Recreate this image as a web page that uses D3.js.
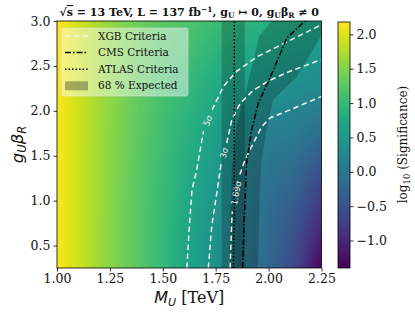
<!DOCTYPE html>
<html>
<head>
<meta charset="utf-8">
<script src="https://cdn.jsdelivr.net/npm/d3@7"></script>
<style>
  body { margin: 0; background: #fff; }
  text { font-family: "DejaVu Serif", serif; fill: #111; }
  .math { font-family: "DejaVu Sans", sans-serif; font-style: italic; }
</style>
</head>
<body>
<svg id="chart"></svg>
<script>
// ---- data ----
// heatmap grid, log10(significance); rows follow couplingGrid, columns follow massGrid
const massGrid = [1.0, 1.125, 1.25, 1.375, 1.5, 1.625, 1.75, 1.875, 2.0, 2.125, 2.25];
const couplingGrid = [0.25, 0.75, 1.25, 1.75, 2.25, 2.75, 3.0];
const logSig = [
  [2.15, 1.85, 1.55, 1.27, 1.00, 0.68, 0.40, 0.10, -0.22, -0.62, -1.35],
  [2.15, 1.85, 1.55, 1.27, 1.01, 0.71, 0.43, 0.13, -0.15, -0.45, -0.95],
  [2.15, 1.85, 1.56, 1.29, 1.04, 0.77, 0.52, 0.21, -0.05, -0.20, -0.60],
  [2.15, 1.85, 1.57, 1.31, 1.08, 0.86, 0.62, 0.34, 0.15, 0.08, -0.10],
  [2.16, 1.86, 1.58, 1.34, 1.14, 0.98, 0.76, 0.58, 0.44, 0.36, 0.30],
  [2.17, 1.87, 1.60, 1.38, 1.22, 1.12, 0.95, 0.82, 0.76, 0.66, 0.57],
  [2.18, 1.88, 1.61, 1.40, 1.26, 1.18, 1.05, 0.93, 0.88, 0.80, 0.72]
];
const colorRange = [-1.40, 2.18];

// XGB contours [M, g]; null = gap where the label sits
const xgb5 = [[1.614, 0.25], [1.624, 0.67], [1.638, 1.12], [1.660, 1.34], [1.692, 1.77], null,
  [1.733, 2.01], [1.786, 2.27], [1.849, 2.44], [1.944, 2.60], [2.038, 2.71], [2.148, 2.84], [2.26, 2.97]];
const xgb3 = [[1.715, 0.25], [1.731, 0.71], [1.755, 1.08], [1.776, 1.42], null,
  [1.802, 1.64], [1.826, 1.90], [1.865, 2.08], [1.928, 2.23], [2.006, 2.34], [2.101, 2.44], [2.26, 2.58]];
const xgb169 = [[1.818, 0.25], [1.826, 0.78], [1.829, 0.88], null,
  [1.864, 1.29], [1.888, 1.45], [1.936, 1.68], [1.967, 1.82], [2.006, 1.92], [2.101, 2.01], [2.26, 2.17]];
const xgbCurves = [xgb5, xgb3, xgb169];
const xgbLabels = ["5σ", "3σ", "1.69σ"];

// CMS criteria line
const cmsLine = [[1.877, 0.25], [1.888, 0.97], [1.896, 1.42], [1.920, 1.79], [1.951, 2.08],
  [2.022, 2.45], [2.086, 2.81], [2.172, 3.0]];
// ATLAS criteria line
const atlasLine = [[1.834, 0.25], [1.838, 1.0], [1.838, 3.0]];

// 68 % expected bands
const atlasBand = [1.778, 1.888];
const cmsBandLow = [[2.015, 3.0], [1.956, 2.83], [1.888, 2.18], [1.849, 1.84], [1.826, 1.34], [1.813, 0.25]];
const cmsBandHigh = [[1.950, 0.25], [1.959, 1.15], [1.967, 1.45], [1.991, 1.79], [2.021, 2.12],
  [2.133, 2.38], [2.25, 2.84], [2.25, 3.0]];

const xTicks = [1.0, 1.25, 1.5, 1.75, 2.0, 2.25];
const yTicks = [0.5, 1.0, 1.5, 2.0, 2.5, 3.0];
const cTicks = [-1.0, -0.5, 0.0, 0.5, 1.0, 1.5, 2.0];

// ---- layout ----
const W = 415, H = 317;
const margin = { top: 21, right: 93.5, bottom: 49, left: 57 };
const width = W - margin.left - margin.right;
const height = H - margin.top - margin.bottom;

const svg = d3.select('#chart').attr('width', W).attr('height', H);
const chart = svg.append('g').attr('transform', `translate(${margin.left},${margin.top})`);

const x = d3.scaleLinear().domain([1.0, 2.25]).range([0, width]);
const y = d3.scaleLinear().domain([0.25, 3.0]).range([height, 0]);
const cNorm = d3.scaleLinear().domain(colorRange).range([0, 1]).clamp(true);

svg.append('defs').append('clipPath').attr('id', 'plotclip')
  .append('rect').attr('width', width).attr('height', height);

// ---- heatmap (bilinear shading of the grid) ----
function lookup(M, g) {
  let i = Math.max(0, Math.min(massGrid.length - 2, d3.bisectRight(massGrid, M) - 1));
  let j = Math.max(0, Math.min(couplingGrid.length - 2, d3.bisectRight(couplingGrid, g) - 1));
  let tx = (M - massGrid[i]) / (massGrid[i + 1] - massGrid[i]);
  let ty = (g - couplingGrid[j]) / (couplingGrid[j + 1] - couplingGrid[j]);
  tx = Math.max(0, Math.min(1, tx)); ty = Math.max(0, Math.min(1, ty));
  const a = logSig[j][i], b = logSig[j][i + 1], c = logSig[j + 1][i], d = logSig[j + 1][i + 1];
  return (a * (1 - tx) + b * tx) * (1 - ty) + (c * (1 - tx) + d * tx) * ty;
}
const cw = Math.round(width), chh = Math.round(height);
const canvas = document.createElement('canvas');
canvas.width = cw; canvas.height = chh;
const ctx = canvas.getContext('2d');
const img = ctx.createImageData(cw, chh);
for (let py = 0; py < chh; py++) {
  for (let px = 0; px < cw; px++) {
    const v = lookup(x.invert(px + 0.5), y.invert(py + 0.5));
    const col = d3.rgb(d3.interpolateViridis(cNorm(v)));
    const k = (py * cw + px) * 4;
    img.data[k] = col.r; img.data[k + 1] = col.g; img.data[k + 2] = col.b; img.data[k + 3] = 255;
  }
}
ctx.putImageData(img, 0, 0);
chart.append('image').attr('href', canvas.toDataURL())
  .attr('width', width).attr('height', height).attr('preserveAspectRatio', 'none');

// ---- bands and lines ----
const layer = chart.append('g').attr('clip-path', 'url(#plotclip)');
const line = d3.line().defined(d => d !== null).x(d => x(d[0])).y(d => y(d[1]));

layer.append('rect')
  .attr('x', x(atlasBand[0])).attr('width', x(atlasBand[1]) - x(atlasBand[0]))
  .attr('y', 0).attr('height', height)
  .attr('fill', '#000').attr('fill-opacity', 0.2);
layer.append('path')
  .attr('d', line(cmsBandLow.concat(cmsBandHigh)) + 'Z')
  .attr('fill', '#000').attr('fill-opacity', 0.2);

xgbCurves.forEach((pts, k) => {
  layer.append('path').attr('d', line(pts))
    .attr('fill', 'none').attr('stroke', '#f2f2f2').attr('stroke-width', 1.5)
    .attr('stroke-dasharray', '5.5,3.5');
  const gi = pts.indexOf(null);
  const p0 = pts[gi - 1], p1 = pts[gi + 1];
  const x0 = x(p0[0]), y0 = y(p0[1]), x1 = x(p1[0]), y1 = y(p1[1]);
  const ang = Math.atan2(y1 - y0, x1 - x0) * 180 / Math.PI;
  layer.append('text')
    .attr('transform', `translate(${(x0 + x1) / 2},${(y0 + y1) / 2}) rotate(${ang})`)
    .attr('text-anchor', 'middle').attr('dy', '0.35em')
    .style('font-family', '"DejaVu Sans", sans-serif').style('font-size', '8.5px')
    .style('fill', '#eeeeee').text(xgbLabels[k]);
});

layer.append('path').attr('d', line(cmsLine))
  .attr('fill', 'none').attr('stroke', '#000').attr('stroke-width', 1.5)
  .attr('stroke-dasharray', '6,2,1.5,2');
layer.append('path').attr('d', line(atlasLine))
  .attr('fill', 'none').attr('stroke', '#000').attr('stroke-width', 1.5)
  .attr('stroke-dasharray', '1.5,2');

// ---- axes ----
const xAxis = chart.append('g').attr('transform', `translate(0,${height})`)
  .call(d3.axisBottom(x).tickValues(xTicks).tickFormat(d3.format('.2f')).tickSize(3.5).tickPadding(3));
const yAxis = chart.append('g')
  .call(d3.axisLeft(y).tickValues(yTicks).tickFormat(d3.format('.1f')).tickSize(3.5).tickPadding(3));
[xAxis, yAxis].forEach(a => {
  a.selectAll('text').style('font-family', '"DejaVu Serif", serif').style('font-size', '12.5px').attr('fill', '#111');
  a.select('.domain').remove();
  a.selectAll('line').attr('stroke', '#000').attr('stroke-width', 0.8);
});
chart.append('rect').attr('width', width).attr('height', height)
  .attr('fill', 'none').attr('stroke', '#000').attr('stroke-width', 0.8);

// axis labels
const xl = svg.append('text').attr('x', margin.left + width / 2).attr('y', 303)
  .attr('text-anchor', 'middle').style('font-size', '16px');
xl.append('tspan').attr('class', 'math').text('M');
xl.append('tspan').attr('class', 'math').attr('dy', 3).style('font-size', '11px').text('U');
xl.append('tspan').attr('dy', -3).text(' [TeV]');

const yl = svg.append('text')
  .attr('transform', `translate(23,${margin.top + height / 2}) rotate(-90)`)
  .attr('text-anchor', 'middle').style('font-size', '16.5px');
yl.append('tspan').attr('class', 'math').text('g');
yl.append('tspan').attr('class', 'math').attr('dy', 3).style('font-size', '11.5px').text('U');
yl.append('tspan').attr('class', 'math').attr('dy', -3).text('β');
yl.append('tspan').attr('class', 'math').attr('dy', 3).style('font-size', '11.5px').text('R');

// title
const tt = svg.append('text').attr('x', margin.left + width / 2).attr('y', 16)
  .attr('text-anchor', 'middle').style('font-size', '11px').style('font-weight', 'bold');
tt.append('tspan').text('√');
tt.append('tspan').style('text-decoration', 'overline').text('s');
tt.append('tspan').text(' = 13 TeV, L = 137 fb');
tt.append('tspan').attr('dy', -4).style('font-size', '7.5px').text('−1');
tt.append('tspan').attr('dy', 4).text(', g');
tt.append('tspan').attr('dy', 2).style('font-size', '7.5px').text('U');
tt.append('tspan').attr('dy', -2).text(' ↦  0, g');
tt.append('tspan').attr('dy', 2).style('font-size', '7.5px').text('U');
tt.append('tspan').attr('dy', -2).text('β');
tt.append('tspan').attr('dy', 2).style('font-size', '7.5px').text('R');
tt.append('tspan').attr('dy', -2).text(' ≠  0');

// ---- legend ----
const lg = chart.append('g').attr('transform', 'translate(4,7)');
lg.append('rect').attr('width', 127).attr('height', 68).attr('rx', 2)
  .attr('fill', '#fff').attr('fill-opacity', 0.45).attr('stroke', '#ddd').attr('stroke-opacity', 0.6);
const entries = [
  { label: 'XGB Criteria', stroke: '#f2f2f2', dash: '5.5,3.5' },
  { label: 'CMS Criteria', stroke: '#000', dash: '6,2,1.5,2' },
  { label: 'ATLAS Criteria', stroke: '#000', dash: '1.5,2' },
  { label: '68 % Expected', patch: true }
];
entries.forEach((e, i) => {
  const cy = 8 + i * 16.6;
  if (e.patch) {
    lg.append('rect').attr('x', 4).attr('y', cy - 4.5).attr('width', 23).attr('height', 9)
      .attr('fill', '#000').attr('fill-opacity', 0.3);
  } else {
    lg.append('line').attr('x1', 4).attr('x2', 27).attr('y1', cy).attr('y2', cy)
      .attr('stroke', e.stroke).attr('stroke-width', 1.5).attr('stroke-dasharray', e.dash);
  }
  lg.append('text').attr('x', 37).attr('y', cy).attr('dy', '0.35em')
    .style('font-size', '10.5px').text(e.label);
});

// ---- colorbar ----
const cbX = 338, cbW = 12;
const cy = d3.scaleLinear().domain(colorRange).range([margin.top + height, margin.top + 1]);
const grad = svg.select('defs').append('linearGradient').attr('id', 'cbgrad')
  .attr('x1', 0).attr('x2', 0).attr('y1', 1).attr('y2', 0);
d3.range(0, 1.0001, 0.05).forEach(t => {
  grad.append('stop').attr('offset', t).attr('stop-color', d3.interpolateViridis(t));
});
svg.append('rect').attr('x', cbX).attr('y', cy(colorRange[1])).attr('width', cbW)
  .attr('height', cy(colorRange[0]) - cy(colorRange[1]))
  .attr('fill', 'url(#cbgrad)').attr('stroke', '#000').attr('stroke-width', 0.8);
const cAxis = svg.append('g').attr('transform', `translate(${cbX + cbW},0)`)
  .call(d3.axisRight(cy).tickValues(cTicks).tickFormat(d3.format('.1f')).tickSize(3.5).tickPadding(3));
cAxis.select('.domain').remove();
cAxis.selectAll('line').attr('stroke', '#000').attr('stroke-width', 0.8);
cAxis.selectAll('text').style('font-family', '"DejaVu Serif", serif').style('font-size', '12.5px').attr('fill', '#111');

const cl = svg.append('text')
  .attr('transform', `translate(407,${margin.top + height / 2}) rotate(-90)`)
  .attr('text-anchor', 'middle').style('font-size', '12px');
cl.append('tspan').text('log');
cl.append('tspan').attr('dy', 3).style('font-size', '8.5px').text('10');
cl.append('tspan').attr('dy', -3).text(' (Significance)');
</script>
</body>
</html>
